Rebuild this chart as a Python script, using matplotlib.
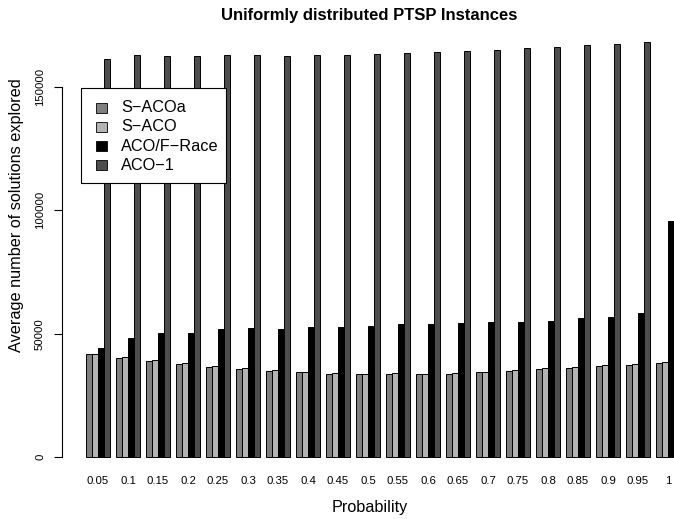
#!/usr/bin/env python3
"""Average number of solutions explored per probability level (uniform PTSP instances)."""
import matplotlib
matplotlib.use("Agg")
import matplotlib.pyplot as plt
from matplotlib.patches import Rectangle
from matplotlib import transforms

plt.rcParams["font.family"] = ["Liberation Sans", "DejaVu Sans"]

probabilities = ["0.05", "0.1", "0.15", "0.2", "0.25", "0.3", "0.35", "0.4", "0.45", "0.5",
                 "0.55", "0.6", "0.65", "0.7", "0.75", "0.8", "0.85", "0.9", "0.95", "1"]

s_acoa = [41630, 40130, 38800, 37700, 36610, 35680, 34860, 34340, 33770, 33530,
          33530, 33530, 33770, 34340, 34860, 35550, 36200, 36890, 37420, 38110]
s_aco = [41700, 40420, 39200, 37990, 36890, 35960, 35150, 34460, 34050, 33770,
         33930, 33770, 34180, 34580, 35270, 35960, 36490, 37180, 37700, 38390]
aco_frace = [44070, 48370, 50270, 50130, 52030, 52160, 51890, 52700, 52840, 53240,
             53780, 53920, 54190, 54600, 54870, 55130, 56480, 56760, 58380, 95670]
aco_1 = [161500, 162850, 162700, 162700, 162850, 163100, 162600, 162850, 163000, 163500,
         163800, 164200, 164700, 165100, 165700, 166100, 167000, 167300, 168200, 168800]

series = [("S\u2212ACOa", s_acoa, "#7f7f7f"),
          ("S\u2212ACO", s_aco, "#b3b3b3"),
          ("ACO/F\u2212Race", aco_frace, "#000000"),
          ("ACO\u22121", aco_1, "#4d4d4d")]

y_ticks = [0, 50000, 100000, 150000]

W, H = 674, 519
fig = plt.figure(figsize=(W / 100, H / 100), dpi=100)


def fx(px):
    return px / W


def fy(py):
    return 1 - py / H


# axes placed in pixel terms (R-like plot region, right edge runs past the figure)
left, right, top, bottom = 62, 678, 24, 473
ax = fig.add_axes([fx(left), fy(bottom), (right - left) / W, (bottom - top) / H])
px_per_unit = 405.4
ax.set_ylim(-(bottom - 457) * px_per_unit, (457 - top) * px_per_unit)
ax.set_xlim(-3, 99.67)

for j, (name, vals, col) in enumerate(series):
    xs = [1 + 5 * i + j for i in range(len(vals))]
    ax.bar(xs, vals, width=1, align="edge", color=col, edgecolor="black", linewidth=0.7)

for side in ("top", "right", "bottom"):
    ax.spines[side].set_visible(False)
ax.spines["left"].set_bounds(0, 150000)
ax.spines["left"].set_linewidth(0.8)
ax.set_xticks([])
ax.set_yticks(y_ticks)
ax.set_yticklabels([])
ax.tick_params(axis="y", length=6, width=0.8)

# y tick labels, parallel to the axis
ytr = transforms.blended_transform_factory(fig.transFigure, ax.transData)
for v in y_ticks:
    ax.text(fx(40), v, str(v), transform=ytr, rotation=90, ha="center", va="center",
            fontsize=8.2, clip_on=False)

# group labels under the bars
xtr = transforms.blended_transform_factory(ax.transData, fig.transFigure)
for i, lab in enumerate(probabilities):
    ax.text(1 + 5 * i + 2, fy(481), lab, transform=xtr, ha="center", va="center",
            fontsize=8.2, clip_on=False)

fig.text(fx(369), fy(20), "Uniformly distributed PTSP Instances", ha="center",
         va="baseline", fontsize=12, fontweight="bold")
fig.text(fx(370), fy(512), "Probability", ha="center", va="baseline", fontsize=11.7)
fig.text(fx(17), fy(215), "Average number of solutions explored", ha="center",
         va="center", rotation=90, fontsize=11.7)

# legend box drawn R-style
fig.patches.append(Rectangle((fx(81), fy(183)), fx(226) - fx(81), fy(88) - fy(183),
                             transform=fig.transFigure, facecolor="white",
                             edgecolor="black", linewidth=0.8, zorder=5))
for k, (name, _, col) in enumerate(series):
    yc = 107.5 + 19.3 * k
    fig.patches.append(Rectangle((fx(95.5), fy(yc + 5)), 11 / W, 10 / H,
                                 transform=fig.transFigure, facecolor=col,
                                 edgecolor="black", linewidth=0.6, zorder=6))
    fig.text(fx(121), fy(yc), name, ha="left", va="center", fontsize=11.7, zorder=7)

fig.savefig("out.png", dpi=100)
